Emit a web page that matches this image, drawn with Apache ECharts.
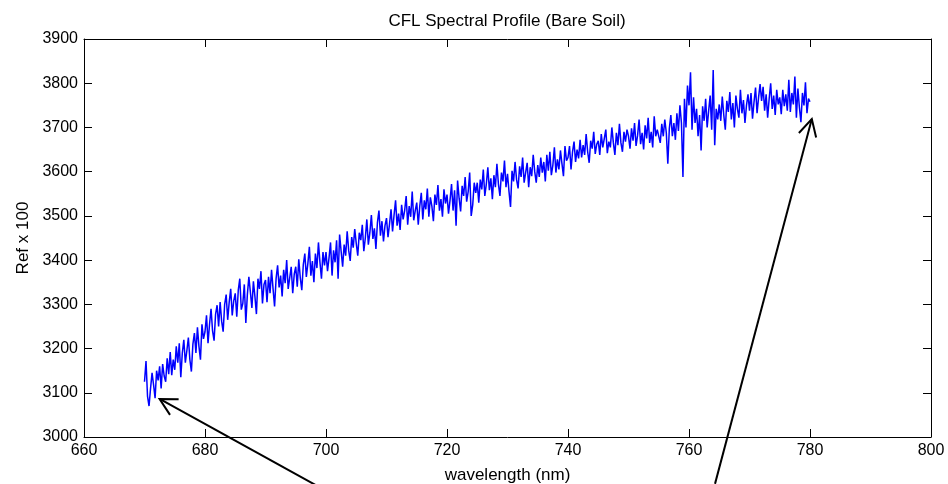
<!DOCTYPE html>
<html>
<head>
<meta charset="utf-8">
<script src="https://cdn.jsdelivr.net/npm/echarts@6/dist/echarts.min.js"></script>
<style>
html,body{margin:0;padding:0;background:#fff;}
#chart{width:948px;height:484px;}
</style>
</head>
<body>
<div id="chart"></div>
<script>
// ---- data ----
const titleText = 'CFL Spectral Profile (Bare Soil)';
const xLabel = 'wavelength (nm)';
const yLabel = 'Ref x 100';
const xTicks = [660, 680, 700, 720, 740, 760, 780, 800];
const yTicks = [3000, 3100, 3200, 3300, 3400, 3500, 3600, 3700, 3800, 3900];
const wlStart = 670;     // nm, first sample
const wlStep = 0.25;     // nm between samples
// reflectance x 100, one row per 5 nm (20 samples), last value at 780 nm
const refl = [
  3125,3172,3092,3070,3110,3145,3118,3088,3150,3128,3160,3110,3165,3138,3125,3178,3142,3192,3140,3175,
  3152,3205,3168,3212,3135,3190,3220,3168,3195,3225,3175,3148,3210,3235,3190,3248,3205,3175,3255,3222,
  3238,3275,3212,3255,3290,3240,3218,3278,3298,3250,3305,3262,3238,3300,3322,3265,3305,3335,3275,3308,
  3325,3272,3332,3358,3288,3302,3345,3258,3322,3362,3328,3292,3352,3318,3278,3358,3335,3375,3302,3345,
  3355,3305,3362,3325,3378,3335,3295,3358,3388,3338,3365,3318,3378,3348,3400,3335,3360,3385,3325,3368,
  3385,3340,3402,3360,3332,3390,3415,3362,3392,3430,3365,3398,3350,3415,3382,3440,3395,3358,3418,3388,
  3418,3375,3405,3440,3365,3422,3395,3445,3358,3458,3420,3385,3435,3410,3465,3422,3398,3452,3428,3470,
  3438,3410,3462,3445,3480,3420,3450,3492,3435,3462,3502,3448,3472,3425,3485,3512,3455,3488,3442,3478,
  3495,3452,3482,3515,3465,3502,3535,3478,3505,3468,3525,3492,3512,3545,3480,3522,3498,3555,3490,3512,
  3530,3480,3522,3552,3492,3535,3515,3562,3498,3542,3522,3488,3548,3525,3570,3512,3538,3498,3560,3528,
  3548,3505,3535,3572,3512,3558,3478,3580,3540,3510,3568,3545,3588,3532,3555,3598,3500,3525,3575,3552,
  3575,3530,3582,3560,3605,3545,3572,3610,3558,3585,3538,3592,3565,3618,3572,3545,3598,3578,3625,3565,
  3595,3555,3520,3602,3578,3622,3582,3562,3612,3588,3632,3575,3598,3620,3565,3610,3590,3638,3600,3575,
  3615,3588,3632,3598,3622,3578,3638,3602,3645,3592,3615,3655,3598,3628,3605,3648,3618,3590,3658,3625,
  3632,3658,3605,3645,3668,3622,3650,3630,3672,3632,3660,3638,3685,3645,3620,3670,3652,3690,3640,3662,
  3670,3638,3685,3655,3675,3695,3642,3668,3655,3700,3665,3638,3688,3660,3708,3665,3645,3690,3668,3695,
  3680,3652,3698,3670,3710,3658,3682,3718,3662,3688,3650,3705,3675,3722,3665,3690,3655,3725,3680,3695,
  3698,3665,3708,3680,3718,3688,3618,3698,3728,3680,3710,3672,3732,3692,3750,3710,3588,3765,3700,3795,
  3750,3825,3695,3768,3710,3742,3680,3728,3648,3748,3715,3765,3700,3738,3772,3695,3830,3660,3742,3718,
  3752,3715,3770,3728,3695,3760,3735,3780,3718,3755,3700,3772,3742,3722,3785,3732,3762,3710,3750,3775,
  3738,3778,3720,3758,3790,3732,3768,3798,3760,3792,3738,3775,3722,3765,3800,3742,3772,3728,3785,3752,
  3768,3730,3785,3748,3775,3738,3808,3735,3778,3752,3815,3722,3788,3745,3712,3778,3750,3802,3732,3765,
  3758
];
// annotation arrows in data coordinates: [tip, tail]
const arrows = [
  [[672.5, 3086], [698.6, 2889]],
  [[780.3, 3719], [764.3, 2894]]
];

const seriesData = refl.map((v, i) => [wlStart + i * wlStep, v]);
const FONT = '"Liberation Sans", Arial, sans-serif';

const chart = echarts.init(document.getElementById('chart'), null, {renderer: 'canvas'});
const axisCommon = {
  type: 'value',
  axisLine: {show: true, onZero: false, lineStyle: {color: '#000', width: 1}},
  axisTick: {show: true, inside: true, length: 8, lineStyle: {color: '#000', width: 1}},
  splitLine: {show: false}
};
const plain = v => String(v);
chart.setOption({
  animation: false,
  backgroundColor: '#fff',
  title: {
    text: titleText, left: 502, top: 8, textAlign: 'center',
    textStyle: {fontFamily: FONT, fontSize: 17, fontWeight: 'normal', color: '#000'}
  },
  grid: {left: 84, right: 17, top: 39, bottom: 47, containLabel: false, outerBoundsMode: 'none'},
  xAxis: [
    Object.assign({}, axisCommon, {
      position: 'bottom', min: xTicks[0], max: xTicks[xTicks.length - 1], interval: 20,
      name: xLabel, nameLocation: 'middle', nameGap: 30,
      nameTextStyle: {fontFamily: FONT, fontSize: 17, color: '#000'},
      axisLabel: {fontFamily: FONT, fontSize: 16, color: '#000', margin: 6, formatter: plain}
    }),
    Object.assign({}, axisCommon, {
      position: 'top', min: xTicks[0], max: xTicks[xTicks.length - 1], interval: 20,
      axisLabel: {show: false}
    })
  ],
  yAxis: [
    Object.assign({}, axisCommon, {
      position: 'left', min: yTicks[0], max: yTicks[yTicks.length - 1], interval: 100,
      name: yLabel, nameLocation: 'middle', nameGap: 52,
      nameTextStyle: {fontFamily: FONT, fontSize: 17, color: '#000'},
      axisLabel: {fontFamily: FONT, fontSize: 16, color: '#000', margin: 6, formatter: plain}
    }),
    Object.assign({}, axisCommon, {
      position: 'right', min: yTicks[0], max: yTicks[yTicks.length - 1], interval: 100,
      axisLabel: {show: false}
    })
  ],
  series: [{
    type: 'line',
    data: seriesData,
    showSymbol: false,
    symbol: 'none',
    sampling: null,
    lineStyle: {color: '#0000ff', width: 1.5},
    clip: true
  }]
});

// arrows
const graphics = [];
arrows.forEach(a => {
  const tip = chart.convertToPixel({gridIndex: 0}, a[0]);
  const tail = chart.convertToPixel({gridIndex: 0}, a[1]);
  const ang = Math.atan2(tail[1] - tip[1], tail[0] - tip[0]);
  const hl = 19, ha = 28 * Math.PI / 180;
  const h1 = [tip[0] + hl * Math.cos(ang - ha), tip[1] + hl * Math.sin(ang - ha)];
  const h2 = [tip[0] + hl * Math.cos(ang + ha), tip[1] + hl * Math.sin(ang + ha)];
  graphics.push({type: 'line', shape: {x1: tip[0], y1: tip[1], x2: tail[0], y2: tail[1]},
    style: {stroke: '#000', lineWidth: 2}, z: 100});
  graphics.push({type: 'polyline', shape: {points: [h1, tip, h2]},
    style: {stroke: '#000', lineWidth: 2, fill: null}, z: 100});
});
chart.setOption({graphic: graphics});
</script>
</body>
</html>
